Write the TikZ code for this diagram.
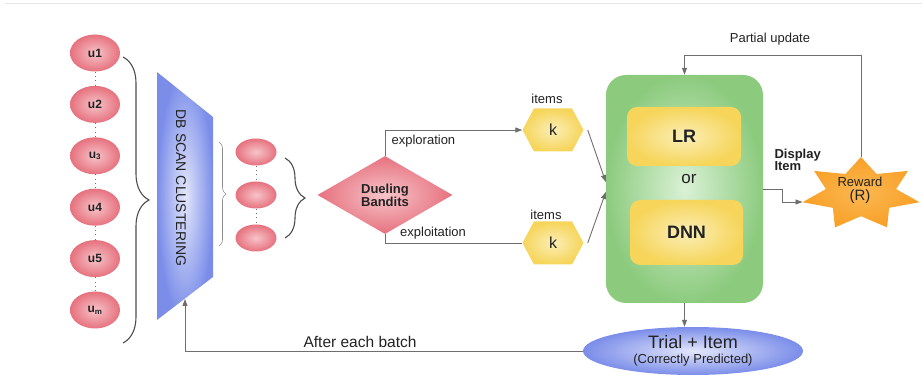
\documentclass[tikz,border=0pt]{standalone}
\usepackage{fontspec}
\setmainfont{Liberation Sans}
\usetikzlibrary{shapes.geometric,shapes.symbols,decorations.pathreplacing,arrows.meta}
\definecolor{userout}{HTML}{E6717E}
\definecolor{userin}{HTML}{F7C4C9}
\definecolor{dbout}{HTML}{7B8DE9}
\definecolor{dbin}{HTML}{E3E7FB}
\definecolor{greenout}{HTML}{8CCB7E}
\definecolor{greenin}{HTML}{DAF1D6}
\definecolor{yelout}{HTML}{F6D55A}
\definecolor{yelin}{HTML}{FBEEB6}
\definecolor{starout}{HTML}{F8A027}
\definecolor{starin}{HTML}{FBB852}
\definecolor{linegray}{HTML}{6E6E6E}
\definecolor{txt}{HTML}{222222}

\begin{document}
\begin{tikzpicture}[x=1pt,y=-1pt]
  \tikzstyle{user} = [ellipse,inner sep=0pt,inner color=userin,outer color=userout,text=txt,
                      minimum width=50pt,minimum height=37pt,font=\fontsize{12}{14}\selectfont\bfseries]
  \tikzstyle{group} = [ellipse,inner color=userin,outer color=userout,minimum width=41pt,minimum height=27pt]
  \tikzstyle{dots} = [draw=linegray,line width=0.8pt,dash pattern=on 0.8pt off 3.5pt]
  \tikzstyle{link} = [draw=linegray,line width=0.9pt]
  \tikzstyle{arr} = [link,-{Triangle[length=7pt,width=5pt]}]
  \tikzstyle{hexa} = [signal,signal to=east and west,signal pointer angle=124,inner sep=0pt,
                      minimum width=61pt,minimum height=43pt,inner color=yelin,outer color=yelout,
                      text=txt,font=\fontsize{16}{18}\selectfont]
  \tikzstyle{yelbox} = [rectangle,rounded corners=10pt,inner color=yelin,outer color=yelout,
                        text=txt,font=\fontsize{18}{20}\selectfont\bfseries]
  \tikzstyle{lbl} = [text=txt,font=\fontsize{13}{15}\selectfont]

  \useasboundingbox (0,0) rectangle (922,379);
  \draw[line width=1pt,draw=black!10] (5,4) -- (922,4);

  % users and their clustering
  \foreach \t [count=\i] in {u1,u2,u\textsubscript{3},u4,u5,u\textsubscript{m}}
    \node[user] (u\i) at (95,{53+51.4*(\i-1)}) {\t};
  \foreach \i [count=\j from 2] in {1,...,5}
    \draw[dots] (u\i) -- (u\j);
  \draw[draw=black!70,line width=1.1pt,decorate,decoration={brace,amplitude=26pt}] (123,57) -- (123,343);

  \shade[inner color=dbin,outer color=dbout] (157,72) -- (213,117) -- (213,277) -- (157,320) -- cycle;
  \node[rotate=-90,text=txt,font=\fontsize{14}{16}\selectfont] (db) at (181,188) {DB SCAN CLUSTERING};
  \coordinate (dbfoot) at (185,299);

  \draw[draw=black!45,line width=0.6pt,decorate,decoration={brace,amplitude=7pt}] (219,142) -- (219,246);
  \foreach \i in {1,2,3}
    \node[group] (g\i) at (256,{109+43*\i}) {};
  \draw[dots] (g1) -- (g2);
  \draw[dots] (g2) -- (g3);
  \draw[draw=black!70,line width=1.1pt,decorate,decoration={brace,amplitude=20pt}] (285,158) -- (285,238);

  % bandits
  \node[diamond,aspect=1.7,inner sep=0pt,minimum width=135pt,minimum height=78pt,
        inner color=userin,outer color=userout,align=center,text=txt,
        font=\fontsize{13}{12}\selectfont\bfseries] (duel) at (385,195) {Dueling\\Bandits};
  \node[hexa] (hextop) at (553,130) {k};
  \node[hexa] (hexbot) at (553,243) {k};
  \node[lbl] (itemtop) at (547,99) {items};
  \node[lbl] (itembot) at (546,215) {items};
  \draw[arr] (duel.north) |- (hextop.west) node[lbl,pos=0.64,below,yshift=-1pt] {exploration};
  \draw[link] (duel.south) |- (hexbot.west) node[lbl,pos=0.675,above] {exploitation};

  % model
  \node[rectangle,rounded corners=20pt,minimum width=157pt,minimum height=228pt,
        inner color=greenin,outer color=greenout] (model) at (684.5,189) {};
  \node[yelbox,minimum width=114pt,minimum height=59pt] (lr) at (684,136.5) {LR};
  \node[yelbox,minimum width=113pt,minimum height=65pt] (dnn) at (686.5,232.5) {DNN};
  \node[text=txt,font=\fontsize{17}{19}\selectfont] (or) at (689,179) {or};
  \draw[arr] ([xshift=4pt]hextop.east) -- ([yshift=7pt]model.west);
  \draw[arr] ([xshift=4pt]hexbot.east) -- ([yshift=-3pt]model.west);

  % reward
  \shade[inner color=starin,outer color=starout] plot[samples at={0,...,13},variable=\k]
    ({861+60*(1-0.4*mod(\k,2))*cos(90+\k*360/14)},{194-37*(1-0.4*mod(\k,2))*sin(90+\k*360/14)}) -- cycle;
  \coordinate (startop) at (861,157);
  \coordinate (starleft) at (802.5,202);
  \node[text=txt,align=center,font=\fontsize{15}{15}\selectfont] (reward) at (860,190)
    {{\fontsize{13}{15}\selectfont Reward}\\[-1pt](R)};
  \node[anchor=west,align=left,text=txt,font=\fontsize{13}{12}\selectfont\bfseries] (disp) at (771,160) {Display\\Item};
  \node[lbl] (partial) at (770,39) {Partial update};
  \draw[arr] (model.east) -- ++(19,0) |- (starleft);
  \draw[arr] (startop) -- ++(0,-102) -| (model.north);

  % feedback
  \node[ellipse,inner sep=0pt,minimum width=220pt,minimum height=48pt,inner color=dbin,outer color=dbout,
        align=center,text=txt,font=\fontsize{18}{18}\selectfont] (trial) at (693,351)
    {Trial + Item\\[-3pt]{\fontsize{13}{15}\selectfont (Correctly Predicted)}};
  \draw[arr] (model.south) -- (model.south |- trial.north);
  \draw[arr] (trial.west) -| (dbfoot) node[lbl,pos=0.28,above,font=\fontsize{15.5}{17}\selectfont] {After each batch};
\end{tikzpicture}
\end{document}
